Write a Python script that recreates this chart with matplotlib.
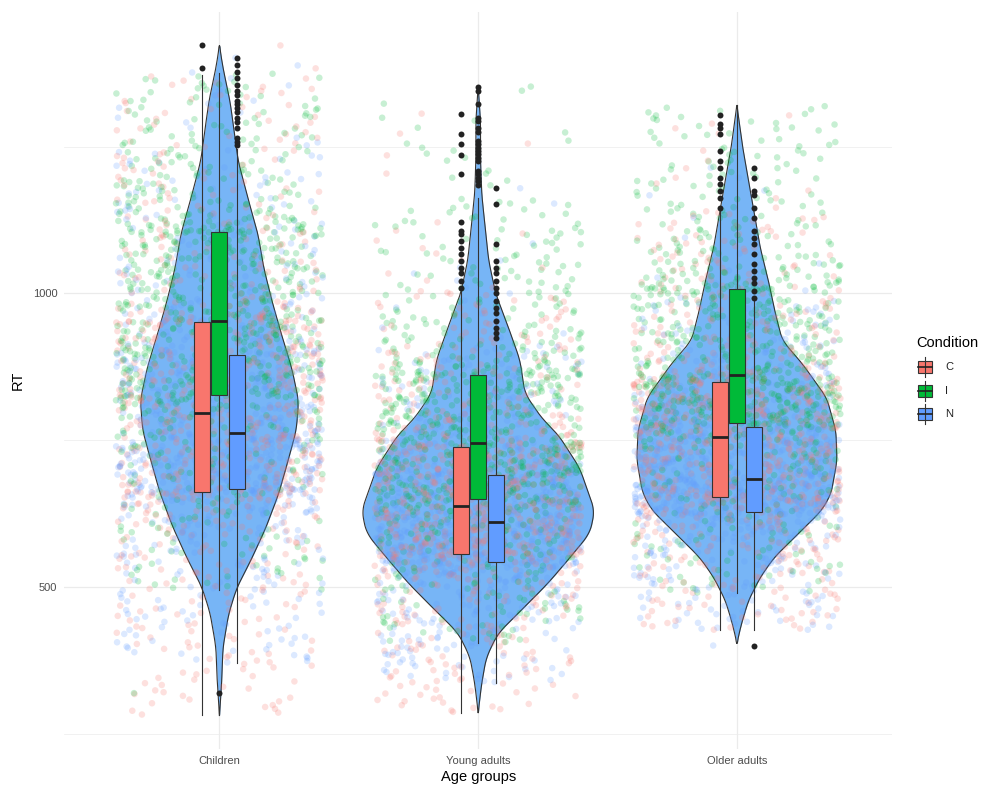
import matplotlib.pyplot as plt
from matplotlib.patches import Rectangle
import numpy as np

plt.rcParams['font.family'] = ['Liberation Sans', 'DejaVu Sans']

groups = ["Children", "Young adults", "Older adults"]
conditions = ["C", "I", "N"]
cond_colors = ["#F8766D", "#00BA38", "#619CFF"]

# violin outlines: RT and relative density
children_rt = [1422, 1384, 1328, 1271, 1226, 1158, 1102, 1044, 988, 932, 874,
               818, 767, 716, 660, 602, 546, 500, 456, 398, 342, 282]
children_dens = [0, .03, .09, .13, .16, .25, .33, .38, .45, .53, .62,
                 .68, .66, .59, .51, .40, .27, .15, .08, .03, .02, 0]
young_rt = [1352, 1294, 1226, 1170, 1112, 1056, 1000, 942, 886, 830, 784,
            762, 704, 631, 592, 551, 507, 461, 422, 381, 337, 287]
young_dens = [0, .02, .02, .03, .06, .09, .15, .26, .36, .40, .56,
              .68, .87, 1.0, .96, .79, .60, .37, .17, .07, .03, 0]
older_rt = [1320, 1248, 1192, 1136, 1078, 1022, 966, 920, 881, 823,
            767, 716, 660, 631, 592, 551, 517, 478, 439, 405]
older_dens = [0, .05, .10, .15, .20, .27, .33, .39, .56, .77,
              .85, .86, .81, .73, .53, .32, .20, .10, .04, 0]

# box stats for C, I, N: lower whisker, Q1, median, Q3, upper whisker
children_box = [(282, 663, 797, 951, 1371),
                (495, 827, 954, 1104, 1375),
                (371, 667, 762, 896, 1245)]
young_box = [(287, 556, 638, 738, 1005),
             (406, 650, 745, 861, 1162),
             (338, 543, 611, 692, 912)]
older_box = [(427, 653, 755, 849, 1141),
             (490, 779, 862, 1007, 1320),
             (427, 628, 685, 772, 988)]

children_out = [[1383, 1422],
                [320],
                [1401, 1388, 1376, 1366, 1354, 1345, 1337, 1328, 1323, 1316,
                 1308, 1299, 1291, 1282, 1265, 1257, 1252]]
young_out = [[1306, 1272, 1255, 1235, 1204, 1121, 1107, 1102, 1090, 1077,
              1068, 1056, 1044, 1034, 1022, 1010],
             [1352, 1345, 1323, 1299, 1294, 1282, 1274, 1260, 1255, 1248,
              1243, 1238, 1231, 1226, 1209, 1204, 1197, 1192, 1184],
             [1179, 1153, 1085, 1056, 1044, 1034, 1022, 1010, 1000, 988,
              976, 966, 954, 942, 932, 925]]
older_out = [[1303, 1289, 1281, 1272, 1243, 1226, 1213, 1197, 1187, 1175,
              1162, 1146],
             [],
             [1214, 1197, 1175, 1167, 1146, 1129, 1107, 1095, 1085, 1068,
              1051, 1039, 1027, 1017, 1005, 993, 401]]

n_per_cell = 800

violins = [(children_rt, children_dens), (young_rt, young_dens),
           (older_rt, older_dens)]
boxes = [children_box, young_box, older_box]
outliers = [children_out, young_out, older_out]


def quantile_points(stats, n):
    """Spread n points over the five box stats, thinning the tails"""
    wl, q1, med, q3, wh = stats
    p = (np.arange(n) + 0.5) / n
    y = np.interp(p, [.25, .5, .75], [q1, med, q3])
    lo = p < .25
    y[lo] = q1 - (q1 - wl) * ((.25 - p[lo]) / .25) ** 1.7
    up = p > .75
    y[up] = q3 + (wh - q3) * ((p[up] - .75) / .25) ** 1.7
    return y


fig = plt.figure(figsize=(9.88, 7.86), dpi=100)
ax = fig.add_axes([0.065, 0.0471, 0.838, 0.9377])

rng = np.random.default_rng(3)
dodge = 0.067
box_w = 0.062
line_col = "#333333"

for g in range(3):
    xc = g + 1
    # violin
    rt, dens = violins[g]
    yy = np.linspace(min(rt), max(rt), 500)
    hw = np.interp(yy, rt[::-1], dens[::-1]) * 0.45
    k = np.ones(15) / 15
    hw = np.convolve(np.pad(hw, 7, mode='edge'), k, mode='valid')
    hw[0] = hw[-1] = 0
    ax.fill_betweenx(yy, xc - hw, xc + hw, color="#77B5F6", lw=0,
                     zorder=2)
    ax.plot(np.r_[xc - hw, (xc + hw)[::-1]], np.r_[yy, yy[::-1]],
            color=line_col, lw=0.8, zorder=3)

    # jittered raw points
    ys, cs = [], []
    for c in range(3):
        y = np.r_[quantile_points(boxes[g][c], n_per_cell), outliers[g][c]]
        ys.append(y)
        cs += [cond_colors[c]] * len(y)
    ys = np.concatenate(ys)
    cs = np.array(cs)
    order = rng.permutation(len(ys))
    xs = xc + rng.uniform(-0.4, 0.4, len(ys))
    ax.scatter(xs, ys[order], s=22, c=cs[order], alpha=0.22, lw=0,
               zorder=4)

    # boxplots
    for c in range(3):
        wl, q1, med, q3, wh = boxes[g][c]
        bx = xc + (c - 1) * dodge
        ax.plot([bx, bx], [wl, q1], color=line_col, lw=0.8, zorder=5)
        ax.plot([bx, bx], [q3, wh], color=line_col, lw=0.8, zorder=5)
        ax.add_patch(Rectangle((bx - box_w / 2, q1), box_w, q3 - q1,
                               facecolor=cond_colors[c],
                               edgecolor=line_col, lw=0.8, zorder=6))
        ax.plot([bx - box_w / 2, bx + box_w / 2], [med, med],
                color="#222222", lw=2, zorder=7, solid_capstyle='butt')
        if outliers[g][c]:
            ax.plot([bx] * len(outliers[g][c]), outliers[g][c], 'o',
                    color="#222222", ms=4.3, mew=0, zorder=8)

all_vals = [v for b in boxes for s in b for v in s] + \
    [v for o in outliers for s in o for v in s]
lo, hi = min(all_vals), max(all_vals)
pad = (hi - lo) * 0.05
ax.set_ylim(lo - pad, hi + pad)
ax.set_xlim(0.4, 3.6)

ax.set_xticks([1, 2, 3])
ax.set_xticklabels(groups)
ax.set_yticks([500, 1000])
ax.set_yticks([250, 750, 1250], minor=True)
ax.tick_params(axis='both', which='both', length=0, labelsize=8,
               labelcolor="#4D4D4D", pad=5)
ax.grid(True, which='major', color="#EBEBEB", lw=0.9, zorder=0)
ax.grid(True, which='minor', axis='y', color="#EBEBEB", lw=0.5, zorder=0)
ax.set_axisbelow(True)
for s in ax.spines.values():
    s.set_visible(False)
ax.set_xlabel("Age groups", fontsize=10.5, labelpad=3)
ax.set_ylabel("RT", fontsize=10.5, labelpad=6)

# legend drawn in pixel space
lax = fig.add_axes([0, 0, 1, 1])
lax.set_xlim(0, 988)
lax.set_ylim(786, 0)
lax.axis('off')
lax.text(916, 343, "Condition", fontsize=10.5, va='center', ha='left')
for i, cond in enumerate(conditions):
    cy = 367 + 23.5 * i
    lax.plot([925, 925], [cy - 10, cy + 10], color=line_col, lw=0.8)
    lax.add_patch(Rectangle((918, cy - 6), 14, 12,
                            facecolor=cond_colors[i], edgecolor=line_col,
                            lw=0.8))
    lax.plot([918, 932], [cy, cy], color="#222222", lw=1.2)
    lax.text(945, cy, cond, fontsize=8, va='center', ha='left',
             color="#222222")

fig.savefig("out.png", dpi=100)
